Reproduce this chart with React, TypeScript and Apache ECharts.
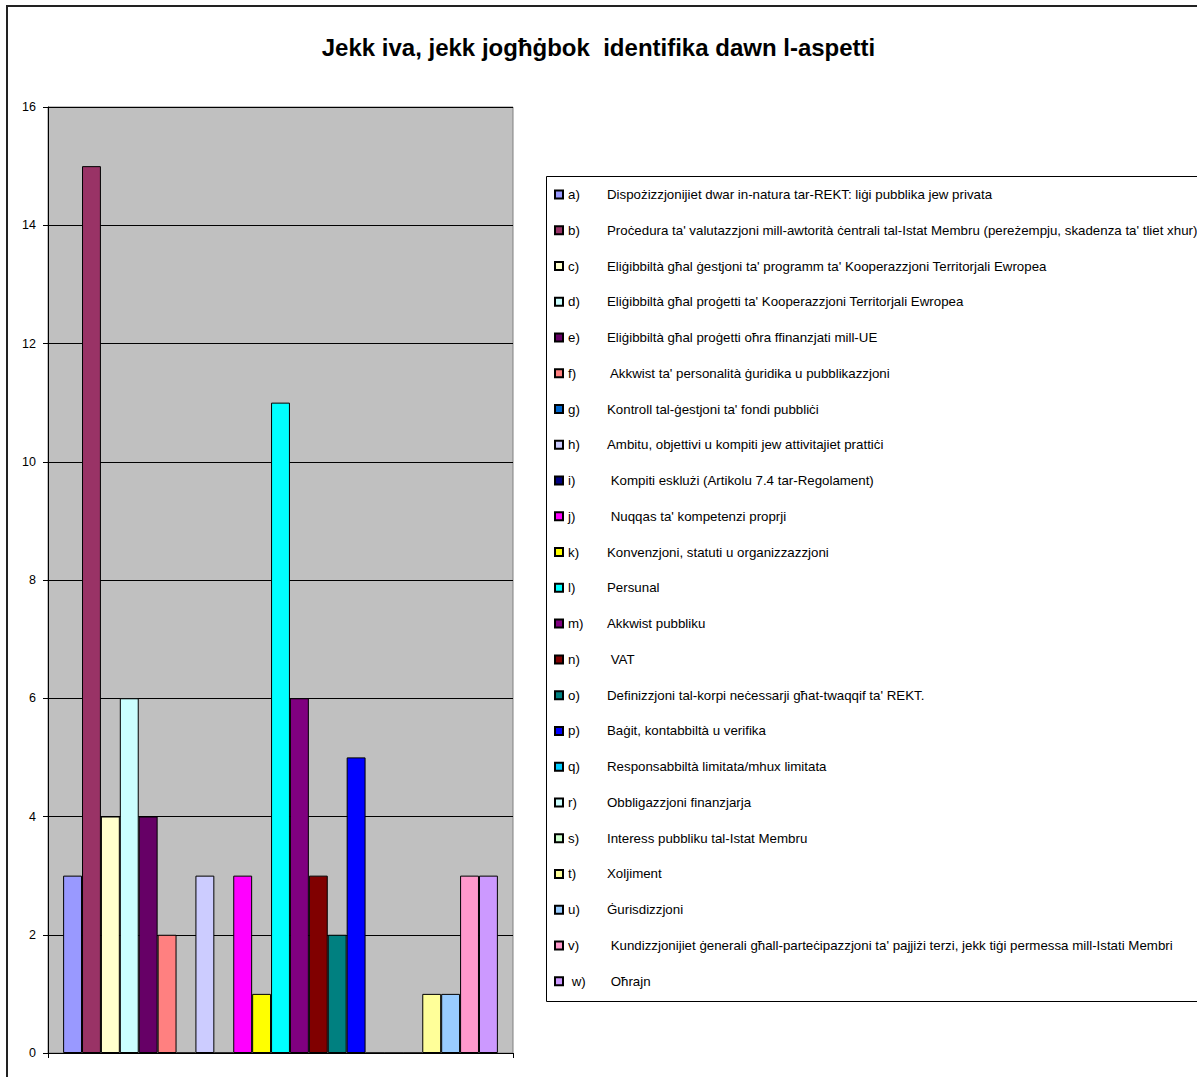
import React, { useEffect, useRef } from "react";
import * as echarts from "echarts";

const TITLE = "Jekk iva, jekk jogħġbok  identifika dawn l-aspetti";

const seriesKeys = [
  "a)", "b)", "c)", "d)", "e)", "f)", "g)", "h)", "i)", "j)", "k)", "l)",
  "m)", "n)", "o)", "p)", "q)", "r)", "s)", "t)", "u)", "v)", " w)",
];

const seriesLabels = [
  "Dispożizzjonijiet dwar in-natura tar-REKT: liġi pubblika jew privata",
  "Proċedura ta' valutazzjoni mill-awtorità ċentrali tal-Istat Membru (pereżempju, skadenza ta' tliet xhur)",
  "Eliġibbiltà għal ġestjoni ta' programm ta' Kooperazzjoni Territorjali Ewropea",
  "Eliġibbiltà għal proġetti ta' Kooperazzjoni Territorjali Ewropea",
  "Eliġibbiltà għal proġetti oħra ffinanzjati mill-UE",
  " Akkwist ta' personalità ġuridika u pubblikazzjoni",
  "Kontroll tal-ġestjoni ta' fondi pubbliċi",
  "Ambitu, objettivi u kompiti jew attivitajiet prattiċi",
  " Kompiti esklużi (Artikolu 7.4 tar-Regolament)",
  " Nuqqas ta' kompetenzi proprji",
  "Konvenzjoni, statuti u organizzazzjoni",
  "Persunal",
  "Akkwist pubbliku",
  " VAT",
  "Definizzjoni tal-korpi neċessarji għat-twaqqif ta' REKT.",
  "Baġit, kontabbiltà u verifika",
  "Responsabbiltà limitata/mhux limitata",
  "Obbligazzjoni finanzjarja",
  "Interess pubbliku tal-Istat Membru",
  "Xoljiment",
  "Ġurisdizzjoni",
  " Kundizzjonijiet ġenerali għall-parteċipazzjoni ta' pajjiżi terzi, jekk tiġi permessa mill-Istati Membri",
  " Oħrajn",
];

const seriesValues = [3, 15, 4, 6, 4, 2, 0, 3, 0, 3, 1, 11, 6, 3, 2, 5, 0, 0, 0, 1, 1, 3, 3];

const seriesColors = [
  "#9999FF", "#993366", "#FFFFCC", "#CCFFFF", "#660066", "#FF8080",
  "#0066CC", "#CCCCFF", "#000080", "#FF00FF", "#FFFF00", "#00FFFF",
  "#800080", "#800000", "#008080", "#0000FF", "#00CCFF", "#CCFFFF",
  "#CCFFCC", "#FFFF99", "#99CCFF", "#FF99CC", "#CC99FF",
];

const yTicks = { min: 0, max: 16, interval: 2 };

const FONT = "'Liberation Sans', Arial, sans-serif";

export default function App() {
  const ref = useRef<HTMLDivElement>(null);
  useEffect(() => {
    if (!ref.current) return;
    const chart = echarts.init(ref.current, undefined, { renderer: "svg" });
    const labelMap: Record<string, string> = {};
    seriesKeys.forEach((k, i) => (labelMap[k] = seriesLabels[i]));
    chart.setOption({
      animation: false,
      backgroundColor: "#ffffff",
      textStyle: { fontFamily: FONT },
      title: {
        text: TITLE,
        left: "center",
        top: 30,
        textStyle: { fontFamily: FONT, fontSize: 24, fontWeight: "bold", color: "#000" },
      },
      graphic: [
        {
          type: "rect",
          z: -10,
          shape: { x: 7, y: 6, width: 1300, height: 1300 },
          style: { fill: "none", stroke: "#222", lineWidth: 2 },
        },
        {
          type: "rect",
          z: -10,
          shape: { x: 546.5, y: 176.5, width: 700, height: 825 },
          style: { fill: "#fff", stroke: "#000", lineWidth: 1 },
        },
      ],
      legend: {
        orient: "vertical",
        left: 554,
        top: 186.5,
        padding: 0,
        itemWidth: 8,
        itemHeight: 8,
        itemGap: 19.76,
        icon: "rect",
        selectedMode: false,
        data: seriesKeys,
        formatter: (name: string) => `{l|${name}}{t|${labelMap[name]}}`,
        textStyle: {
          fontFamily: FONT,
          fontSize: 13.3,
          color: "#000",
          rich: {
            l: { width: 39, fontSize: 13.3, lineHeight: 16, height: 16, fontFamily: FONT, color: "#000" },
            t: { fontSize: 13.3, lineHeight: 16, height: 16, fontFamily: FONT, color: "#000" },
          },
        },
      },
      grid: {
        left: 48,
        top: 107,
        width: 465,
        height: 946,
        show: true,
        backgroundColor: "#C0C0C0",
        borderColor: "#808080",
        borderWidth: 1,
      },
      xAxis: {
        type: "category",
        data: [""],
        axisLine: { show: true, lineStyle: { color: "#000", width: 1 } },
        axisTick: { show: true, length: 5, lineStyle: { color: "#000" } },
        axisLabel: { show: false },
      },
      yAxis: {
        type: "value",
        min: yTicks.min,
        max: yTicks.max,
        interval: yTicks.interval,
        axisLine: { show: true, lineStyle: { color: "#000", width: 1 } },
        axisTick: { show: true, length: 5, lineStyle: { color: "#000" } },
        axisLabel: { fontFamily: FONT, fontSize: 12.5, color: "#000", margin: 12 },
        splitLine: { show: true, lineStyle: { color: "#000", width: 1 } },
      },
      series: seriesKeys.map((k, i) => ({
        name: k,
        type: "bar",
        data: [seriesValues[i]],
        barGap: "0%",
        barCategoryGap: "6.5%",
        itemStyle: { color: seriesColors[i], borderColor: "#000", borderWidth: 1 },
      })),
    });
    return () => chart.dispose();
  }, []);
  return (
    <div
      ref={ref}
      style={{ position: "absolute", left: 0, top: 0, width: 1197, height: 1077 }}
    />
  );
}
